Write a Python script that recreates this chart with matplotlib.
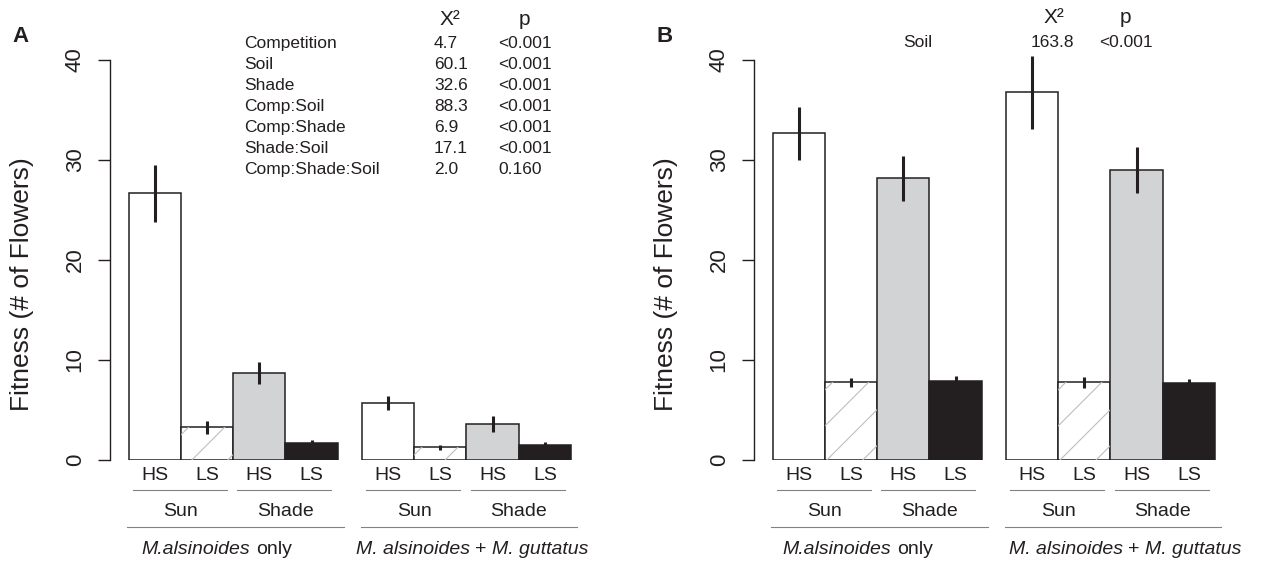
import matplotlib
matplotlib.use("Agg")
import numpy as np
import matplotlib.pyplot as plt
from matplotlib.offsetbox import TextArea, HPacker, AnnotationBbox

plt.rcParams['font.family'] = ['Liberation Sans', 'DejaVu Sans']

W, H = 1261, 570
EDGE = '#231f20'
fills = ['white', 'white', '#d1d3d4', EDGE]

soil_labels = ["HS", "LS", "HS", "LS"]
light_labels = ["Sun", "Shade"]
comp_labels = [("M.alsinoides", "only"), ("M. alsinoides", "+", "M. guttatus")]

# panel A: flowers, alone vs with M. guttatus
a_alone = [26.7, 3.3, 8.7, 1.7]
a_alone_se = [2.85, 0.65, 1.1, 0.35]
a_mixed = [5.7, 1.3, 3.6, 1.5]
a_mixed_se = [0.7, 0.25, 0.8, 0.35]

# panel B
b_alone = [32.7, 7.8, 28.2, 7.9]
b_alone_se = [2.65, 0.45, 2.25, 0.55]
b_mixed = [36.8, 7.8, 29.0, 7.7]
b_mixed_se = [3.65, 0.55, 2.3, 0.45]

terms_a = ["Competition", "Soil", "Shade", "Comp:Soil", "Comp:Shade", "Shade:Soil", "Comp:Shade:Soil"]
chi_a = ["4.7", "60.1", "32.6", "88.3", "6.9", "17.1", "2.0"]
p_a = ["<0.001"] * 6 + ["0.160"]
terms_b = ["Soil"]
chi_b = ["163.8"]
p_b = ["<0.001"]

GAP = 4.46  # offset of second group


def ftext(x, y, s, **kw):
    # place text in figure pixel coords (origin top-left)
    return fig.text(x / W, 1 - y / H, s, **kw)


def hatch_bar(ax, rect, spacing=36):
    x0, y0 = rect.get_x(), rect.get_y()
    w, h = rect.get_width(), rect.get_height()
    p0 = ax.transData.transform((0, 0))
    p1 = ax.transData.transform((1, 1))
    kx, ky = p1[0] - p0[0], p1[1] - p0[1]
    h_px = h * ky
    for c in np.arange(-h_px + 8, w * kx, spacing):
        ln, = ax.plot([x0 + c / kx, x0 + (c + h_px) / kx], [y0, y0 + h],
                      color='#bcbec0', lw=0.8, zorder=2.5)
        ln.set_clip_path(rect)


def italic_label(ax, x, y, parts):
    boxes = []
    for s in parts:
        style = 'italic' if s.startswith('M.') else 'normal'
        boxes.append(TextArea(s, textprops=dict(fontsize=14, style=style, color=EDGE)))
    pack = HPacker(children=boxes, sep=4, pad=0, align='baseline')
    ab = AnnotationBbox(pack, (x, y), xycoords='data', frameon=False,
                        box_alignment=(0.5, 0.5), annotation_clip=False, pad=0)
    ax.add_artist(ab)


def draw_panel(left_px, alone, alone_se, mixed, mixed_se, label_x):
    ax = fig.add_axes([left_px / W, 110 / H, 490 / W, 440 / H])
    ax.set_xlim(-0.854, -0.854 + 490 / 52.3)
    ax.set_ylim(0, 44)
    for off, vals, se in [(0, alone, alone_se), (GAP, mixed, mixed_se)]:
        pos = np.arange(4) + off
        bars = ax.bar(pos, vals, width=1, color=fills, edgecolor=EDGE, linewidth=1.1, zorder=2)
        hatch_bar(ax, bars[1])
        ax.errorbar(pos, vals, yerr=se, fmt='none', ecolor=EDGE, elinewidth=2.2,
                    capsize=0, zorder=3)
        for i, s in enumerate(soil_labels):
            ax.text(pos[i], -1.5, s, ha='center', va='center', fontsize=14, color=EDGE,
                    clip_on=False)
        for j, s in enumerate(light_labels):
            c = off + 2 * j
            ax.plot([c - 0.42, c + 1.38], [-3.0, -3.0], color='#808285', lw=0.8, clip_on=False)
            ax.text(c + 0.5, -5.2, s, ha='center', va='center', fontsize=14, color=EDGE,
                    clip_on=False)
        ax.plot([off - 0.52, off + 3.62], [-6.7, -6.7], color='#808285', lw=0.8, clip_on=False)
    for k, parts in enumerate(comp_labels):
        italic_label(ax, label_x[k], -8.9, parts)

    for sp in ['top', 'right', 'bottom']:
        ax.spines[sp].set_visible(False)
    ax.spines['left'].set_bounds(0, 40)
    ax.spines['left'].set_linewidth(1.0)
    ax.spines['left'].set_color(EDGE)
    ax.set_xticks([])
    ax.set_yticks([0, 10, 20, 30, 40])
    ax.tick_params(axis='y', length=8.5, width=1.0, color=EDGE, labelsize=16, pad=9,
                   labelcolor=EDGE)
    for t in ax.get_yticklabels():
        t.set_rotation(90)
        t.set_va('center')
    ax.set_ylabel("Fitness (# of Flowers)", fontsize=19, color=EDGE)
    ax.yaxis.set_label_coords(-0.155, 0.40)
    return ax


fig = plt.figure(figsize=(W / 100, H / 100), dpi=100)

axA = draw_panel(110, a_alone, a_alone_se, a_mixed, a_mixed_se, [1.19, 6.07])
axB = draw_panel(754, b_alone, b_alone_se, b_mixed, b_mixed_se, [1.13, 6.24])

# panel letters
ftext(12, 42, "A", fontsize=16, fontweight='bold', color=EDGE, va='baseline')
ftext(657, 42, "B", fontsize=16, fontweight='bold', color=EDGE, va='baseline')

# stats table panel A
ftext(440, 25, "X\u00b2", fontsize=15, color=EDGE, va='baseline')
ftext(519, 25, "p", fontsize=15, color=EDGE, va='baseline')
for i in range(len(terms_a)):
    y = 47.7 + 21 * i
    ftext(244, y, terms_a[i], fontsize=12.5, color=EDGE, va='baseline')
    ftext(434, y, chi_a[i], fontsize=12.5, color=EDGE, va='baseline')
    ftext(498, y, p_a[i], fontsize=12.5, color=EDGE, va='baseline')

# stats panel B
ftext(1044, 23, "X\u00b2", fontsize=15, color=EDGE, va='baseline')
ftext(1120, 23, "p", fontsize=15, color=EDGE, va='baseline')
ftext(903, 47, terms_b[0], fontsize=12.5, color=EDGE, va='baseline')
ftext(1031, 47, chi_b[0], fontsize=12.5, color=EDGE, va='baseline')
ftext(1099, 47, p_b[0], fontsize=12.5, color=EDGE, va='baseline')

fig.savefig("out.png", dpi=100)
